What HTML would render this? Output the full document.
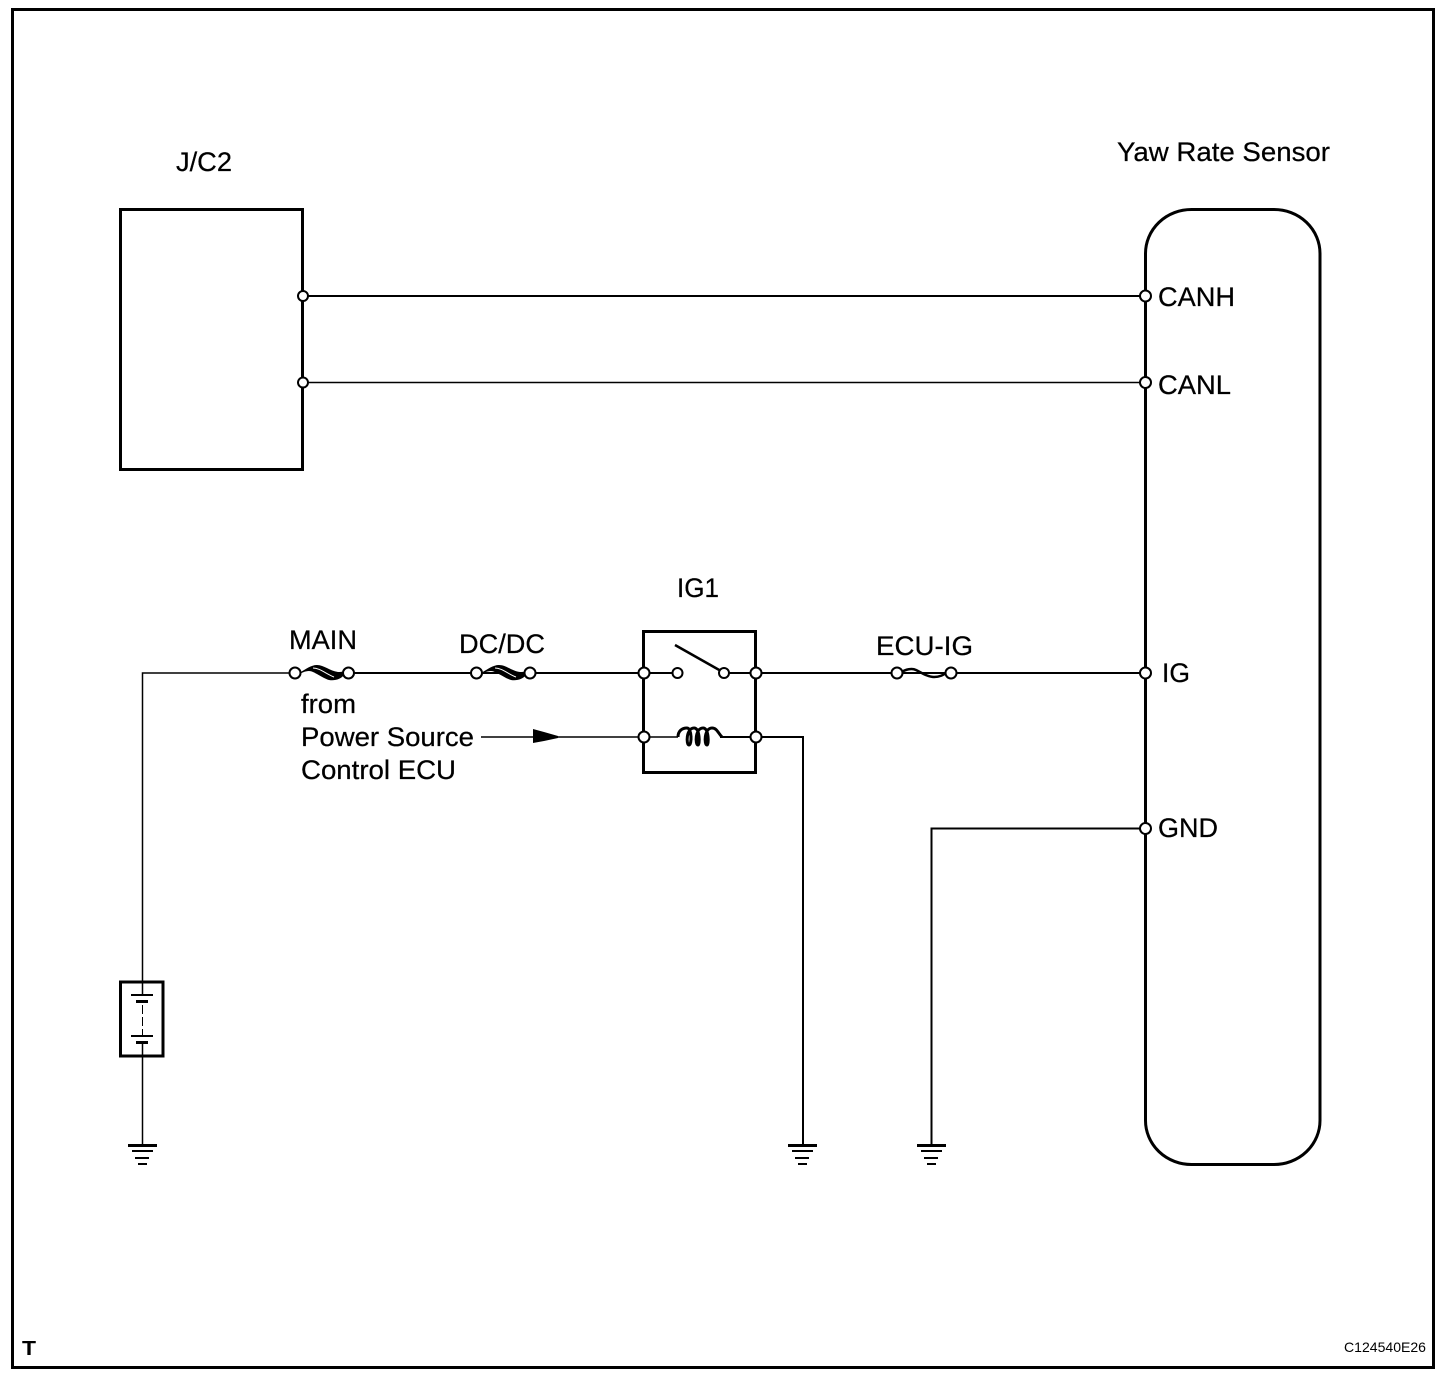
<!DOCTYPE html>
<html><head><meta charset="utf-8"><style>
html,body{margin:0;padding:0;background:#fff;width:1456px;height:1388px;overflow:hidden}
svg{display:block}
text{font-family:"Liberation Sans",Arial,sans-serif;font-size:27px;fill:#000;stroke:#000;stroke-width:.25}
.n{fill:#fff;stroke:#000;stroke-width:2}
.f{fill:none;stroke:#000}
</style></head><body>
<svg width="1456" height="1388" viewBox="0 0 1456 1388" xmlns="http://www.w3.org/2000/svg">
<defs></defs>
<rect width="1456" height="1388" fill="#fff"/>
<rect x="12.5" y="9.5" width="1421" height="1358" class="f" stroke-width="3"/>

<!-- J/C2 -->
<rect x="120.5" y="209.5" width="182" height="260" class="f" stroke-width="3"/>
<!-- Yaw rate sensor -->
<rect x="1145.5" y="209.5" width="174.500" height="955" rx="46" ry="44" class="f" stroke-width="3"/>

<!-- wires -->
<path d="M303 296H1145" class="f" stroke-width="2"/>
<path d="M303 382.500H1145" class="f" stroke-width="1.500"/>
<path d="M756 673H1145" class="f" stroke-width="2"/>
<path d="M142.500 995V673H295" class="f" stroke-width="1.500"/>
<path d="M349 673H644" class="f" stroke-width="2"/>
<path d="M644 673H678M724 673H756" class="f" stroke-width="2"/>
<path d="M481 737H678" class="f" stroke-width="1.500"/>
<path d="M720 737H756" class="f" stroke-width="2"/>
<path d="M756 737H803V1145" class="f" stroke-width="2"/>
<path d="M1145 828.500H931.500V1145" class="f" stroke-width="2"/>
<path d="M142.500 1042V1145" class="f" stroke-width="1.500"/>

<!-- relay -->
<rect x="643.500" y="631.500" width="112" height="141" class="f" stroke-width="3"/>
<path d="M675 645L721 671" class="f" stroke-width="2.500"/>
<path d="M678 737C678 731 682 728 687 728C692 728 692 745 689 745C686 745 686 728 694 728C700 728 700 745 698 745C695 745 695 728 703 728C709 728 709 745 707 745C704 745 704 728 712 728C717 728 718 733 722 737" class="f" stroke-width="3"/>

<!-- fuses -->
<g id="fu">
<path d="M299 673C306 669 311 665 317 665C324 665 330 671 338 672C340 672 342 672 344 671L344 675C341 679 335 681 329 680C322 678 314 671 309 671C305 671 302 673 299 674Z" fill="#000"/>
<path d="M313 668C320 668 326 674 334 677" fill="none" stroke="#fff" stroke-width="1"/>
</g>
<g transform="translate(182 0)">
<path d="M299 673C306 669 311 665 317 665C324 665 330 671 338 672C340 672 342 672 344 671L344 675C341 679 335 681 329 680C322 678 314 671 309 671C305 671 302 673 299 674Z" fill="#000"/>
<path d="M313 668C320 668 326 674 334 677" fill="none" stroke="#fff" stroke-width="1"/>
</g>
<path d="M900 673C906 669 912 668 916 670C922 673 928 677 934 677C940 677 943 675 948 672" class="f" stroke-width="2.500"/>

<!-- arrow -->
<path d="M533 729L544 732L558 736V738L544 741L533 743Z" fill="#000"/>

<!-- nodes -->
<g class="n">
<circle cx="303" cy="296" r="5"/><circle cx="303" cy="382.500" r="5"/>
<circle cx="1145.500" cy="296" r="5.500"/><circle cx="1145.500" cy="382.500" r="5.500"/>
<circle cx="1145.500" cy="673" r="5.500"/><circle cx="1145.500" cy="828.500" r="5.500"/>
<circle cx="295" cy="673" r="5.500"/><circle cx="348.500" cy="673" r="5.500"/>
<circle cx="476.500" cy="673" r="5.500"/><circle cx="530" cy="673" r="5.500"/>
<circle cx="644" cy="673" r="5.500"/><circle cx="677.500" cy="673" r="5"/>
<circle cx="724" cy="673" r="5"/><circle cx="756" cy="673" r="5.500"/>
<circle cx="644" cy="737" r="5.500"/><circle cx="756" cy="737" r="5.500"/>
<circle cx="897" cy="673" r="5.500"/><circle cx="951" cy="673" r="5.500"/>
</g>

<!-- battery -->
<rect x="120.500" y="982" width="42.500" height="74" class="f" stroke-width="3"/>
<g fill="#000">
<rect x="131" y="994" width="22" height="2"/><rect x="136" y="1000" width="12" height="3"/>
<rect x="131" y="1035" width="22" height="2"/><rect x="136" y="1041" width="12" height="3"/>
<rect x="142" y="1005" width="1" height="9"/><rect x="142" y="1017" width="1" height="9"/>
<rect x="142" y="1029" width="1" height="6"/>
</g>

<!-- grounds -->
<g fill="#000">
<rect x="128" y="1144" width="29" height="3"/><rect x="132" y="1150" width="21" height="2"/><rect x="135" y="1157" width="14" height="2"/><rect x="138" y="1163" width="9" height="2"/>
<rect x="788" y="1144" width="29" height="3"/><rect x="792" y="1150" width="21" height="2"/><rect x="795" y="1157" width="14" height="2"/><rect x="798" y="1163" width="9" height="2"/>
<rect x="917" y="1144" width="29" height="3"/><rect x="921" y="1150" width="21" height="2"/><rect x="924" y="1157" width="14" height="2"/><rect x="927" y="1163" width="9" height="2"/>
</g>

<!-- labels -->
<text x="176" y="171" textLength="56" lengthAdjust="spacingAndGlyphs">J/C2</text>
<text x="1117" y="161" textLength="213" lengthAdjust="spacingAndGlyphs">Yaw Rate Sensor</text>
<text x="1158" y="306" textLength="77" lengthAdjust="spacingAndGlyphs">CANH</text>
<text x="1158" y="394" textLength="73" lengthAdjust="spacingAndGlyphs">CANL</text>
<text x="1162" y="682" textLength="28" lengthAdjust="spacingAndGlyphs">IG</text>
<text x="1158" y="837" textLength="60" lengthAdjust="spacingAndGlyphs">GND</text>
<text x="677" y="597" textLength="42" lengthAdjust="spacingAndGlyphs">IG1</text>
<text x="289" y="649" textLength="68" lengthAdjust="spacingAndGlyphs">MAIN</text>
<text x="459" y="653" textLength="86" lengthAdjust="spacingAndGlyphs">DC/DC</text>
<text x="876" y="655" textLength="97" lengthAdjust="spacingAndGlyphs">ECU-IG</text>
<text x="301" y="713" textLength="55" lengthAdjust="spacingAndGlyphs">from</text>
<text x="301" y="746" textLength="173" lengthAdjust="spacingAndGlyphs">Power Source</text>
<text x="301" y="779" textLength="155" lengthAdjust="spacingAndGlyphs">Control ECU</text>
<text x="22" y="1355" style="font-size:20px;font-weight:bold;stroke-width:0" textLength="14" lengthAdjust="spacingAndGlyphs">T</text>
<text x="1344" y="1352" style="font-size:14px;stroke-width:0" textLength="82" lengthAdjust="spacingAndGlyphs">C124540E26</text>
</svg>
</body></html>
